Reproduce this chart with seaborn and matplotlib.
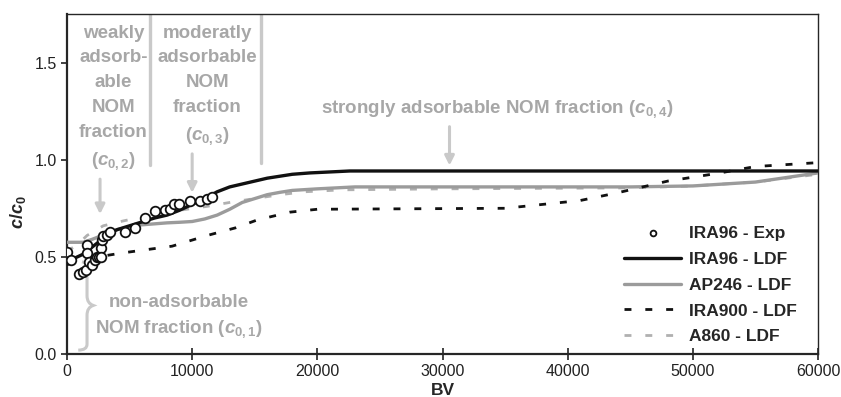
"""
Breakthrough curves of NOM on four anion exchange resins (c/c0 vs BV).
"""

import matplotlib
matplotlib.use("Agg")
import matplotlib.pyplot as plt
import matplotlib.patches as mpatches
from matplotlib.path import Path
import seaborn as sns
import pandas as pd

# --- data ------------------------------------------------------------------
exp_bv = [0, 300, 960, 1250, 1520, 1630, 1630, 1790, 1970, 2240, 2430, 2590,
          2720, 2720, 2770, 2900, 3170, 3440, 4640, 5440, 6240, 7040, 7840,
          8190, 8510, 8910, 9840, 10590, 11170, 11570]
exp_c = [0.526, 0.485, 0.41, 0.42, 0.43, 0.56, 0.52, 0.476, 0.46, 0.485, 0.50,
         0.50, 0.545, 0.50, 0.587, 0.605, 0.61, 0.63, 0.63, 0.65, 0.70, 0.735,
         0.74, 0.745, 0.77, 0.77, 0.785, 0.785, 0.80, 0.807]

ira96_bv = [0, 500, 1000, 1500, 2000, 2500, 3000, 3500, 4000, 5000, 6000, 7000,
            8000, 9000, 10000, 11000, 12000, 13000, 14000, 15000, 16000, 17000,
            18000, 19400, 22600, 60000]
ira96_c = [0.485, 0.49, 0.505, 0.52, 0.55, 0.575, 0.60, 0.625, 0.64, 0.66,
           0.68, 0.70, 0.715, 0.74, 0.77, 0.80, 0.835, 0.86, 0.875, 0.89,
           0.905, 0.915, 0.925, 0.932, 0.942, 0.942]

ap246_bv = [0, 1300, 2000, 3000, 4000, 5000, 6000, 7000, 8000, 9000, 10000,
            11000, 12000, 13000, 14000, 15000, 16000, 17000, 18000, 20000,
            23000, 45000, 50000, 55000, 60000]
ap246_c = [0.575, 0.575, 0.59, 0.615, 0.64, 0.655, 0.665, 0.67, 0.675, 0.678,
           0.682, 0.695, 0.715, 0.745, 0.78, 0.80, 0.82, 0.832, 0.842, 0.85,
           0.86, 0.86, 0.865, 0.885, 0.932]

ira900_bv = [0, 2000, 4400, 8400, 11200, 13500, 15200, 17800, 20000, 35000,
             38000, 41000, 44000, 48000, 52000, 55000, 60000]
ira900_c = [0.46, 0.495, 0.52, 0.555, 0.61, 0.65, 0.69, 0.73, 0.745, 0.75,
            0.77, 0.79, 0.83, 0.89, 0.93, 0.965, 0.985]

a860_bv = [0, 800, 1600, 2900, 4500, 5600, 7000, 9000, 11200, 13000, 15000,
           17000, 19000, 22000, 30000, 45000, 50000, 55000, 60000]
a860_c = [0.53, 0.56, 0.61, 0.66, 0.685, 0.70, 0.72, 0.74, 0.76, 0.78, 0.80,
          0.82, 0.835, 0.845, 0.85, 0.855, 0.865, 0.885, 0.925]

x_ticks = [0, 10000, 20000, 30000, 40000, 50000, 60000]
y_ticks = [0.0, 0.5, 1.0, 1.5]

# --- style -----------------------------------------------------------------
sns.set_style("ticks")
plt.rcParams['font.family'] = ['Liberation Sans', 'DejaVu Sans']
plt.rcParams['mathtext.fontset'] = 'custom'
plt.rcParams['mathtext.it'] = 'Liberation Sans:italic:bold'
plt.rcParams['mathtext.rm'] = 'Liberation Sans:bold'
plt.rcParams['mathtext.bf'] = 'Liberation Sans:bold'
plt.rcParams['mathtext.default'] = 'it'

ANNOT = '#a7a7a7'
GUIDE = '#c9c9c9'

fig, ax = plt.subplots(figsize=(8.41, 3.97), dpi=100)
fig.subplots_adjust(left=67 / 841, right=818 / 841,
                    bottom=(397 - 354) / 397, top=(397 - 14) / 397)

sns.lineplot(x=ira96_bv, y=ira96_c, ax=ax, color='#111111', lw=2.4,
             label='IRA96 - LDF', zorder=4)
sns.lineplot(x=ap246_bv, y=ap246_c, ax=ax, color='#9b9b9b', lw=2.4,
             label='AP246 - LDF', zorder=3)
sns.lineplot(x=ira900_bv, y=ira900_c, ax=ax, color='#111111', lw=2.0,
             dashes=(2.5, 5), label='IRA900 - LDF', zorder=3)
sns.lineplot(x=a860_bv, y=a860_c, ax=ax, color='#b0b0b0', lw=2.0,
             dashes=(2.5, 5), label='A860 - LDF', zorder=2)
sns.scatterplot(x=exp_bv, y=exp_c, ax=ax, marker='o', s=48, color='white',
                edgecolor='#111111', linewidth=1.3, label='IRA96 - Exp',
                zorder=5)

# guide lines separating the fractions
ax.axvline(6640, ymin=0.974 / 1.75, ymax=1, color=GUIDE, lw=2.4, zorder=1)
ax.axvline(15520, ymin=0.985 / 1.75, ymax=1, color=GUIDE, lw=2.4, zorder=1)

txt = dict(color=ANNOT, fontweight='bold', fontsize=13.5, ha='center')
ax.text(3700, 1.695, 'weakly\nadsorb-\nable\nNOM\nfraction\n($c_{0,2}$)',
        va='top', linespacing=1.6, **txt)
ax.text(11200, 1.695, 'moderatly\nadsorbable\nNOM\nfraction\n($c_{0,3}$)',
        va='top', linespacing=1.6, **txt)
ax.text(34400, 1.242, 'strongly adsorbable NOM fraction ($c_{0,4}$)',
        va='baseline', **txt)
ax.text(8960, 0.19, 'non-adsorbable\nNOM fraction ($c_{0,1}$)',
        va='center', linespacing=1.45, **txt)

arrow = dict(arrowstyle='-|>', color=GUIDE, lw=2.2, mutation_scale=14,
             shrinkA=0, shrinkB=0)
for ax_x, y0, y1 in [(2640, 0.90, 0.72), (10000, 1.03, 0.83),
                     (30560, 1.17, 0.97)]:
    ax.annotate('', xy=(ax_x, y1), xytext=(ax_x, y0), arrowprops=arrow)

# curly brace for the non-adsorbable fraction
brace = Path([(1200, 0.475), (1600, 0.47), (1600, 0.44), (1600, 0.30),
              (1600, 0.26), (2100, 0.25), (1600, 0.24), (1600, 0.20),
              (1600, 0.05), (1600, 0.02), (900, 0.02)],
             [Path.MOVETO, Path.CURVE3, Path.CURVE3, Path.LINETO,
              Path.CURVE3, Path.CURVE3, Path.CURVE3, Path.CURVE3,
              Path.LINETO, Path.CURVE3, Path.CURVE3])
ax.add_patch(mpatches.PathPatch(brace, fill=False, edgecolor=GUIDE, lw=2.2,
                                zorder=1))

# axes
ax.set_xlim(0, 60000)
ax.set_ylim(0, 1.75)
ax.set_xticks(x_ticks)
ax.set_yticks(y_ticks)
ax.set_yticklabels([f'{v:.1f}' for v in y_ticks])
ax.tick_params(axis='x', direction='inout', length=8, width=1.2,
               labelsize=11.5, colors='#222222')
ax.tick_params(axis='y', direction='out', length=4, width=1.2,
               labelsize=11.5, colors='#222222')
for side in ['left', 'bottom']:
    ax.spines[side].set_linewidth(1.6)
for side in ['top', 'right']:
    ax.spines[side].set_linewidth(1.0)
    ax.spines[side].set_visible(True)

ax.set_xlabel('BV', fontsize=12.5, fontweight='bold')
ax.xaxis.set_label_coords(0.5, -0.085)
ax.set_ylabel('$c/c_0$', fontsize=13)
ax.yaxis.set_label_coords(-0.052, 0.418)

handles, labels = ax.get_legend_handles_labels()
order = [4, 0, 1, 2, 3]
leg = ax.legend([handles[i] for i in order], [labels[i] for i in order],
                loc='lower right', frameon=False, fontsize=12.5,
                handlelength=3.3, labelspacing=0.62, markerscale=0.6,
                borderaxespad=0.15, handletextpad=0.45,
                bbox_to_anchor=(0.985, 0.0))
for t in leg.get_texts():
    t.set_fontweight('bold')

plt.savefig('out.png', dpi=100)
